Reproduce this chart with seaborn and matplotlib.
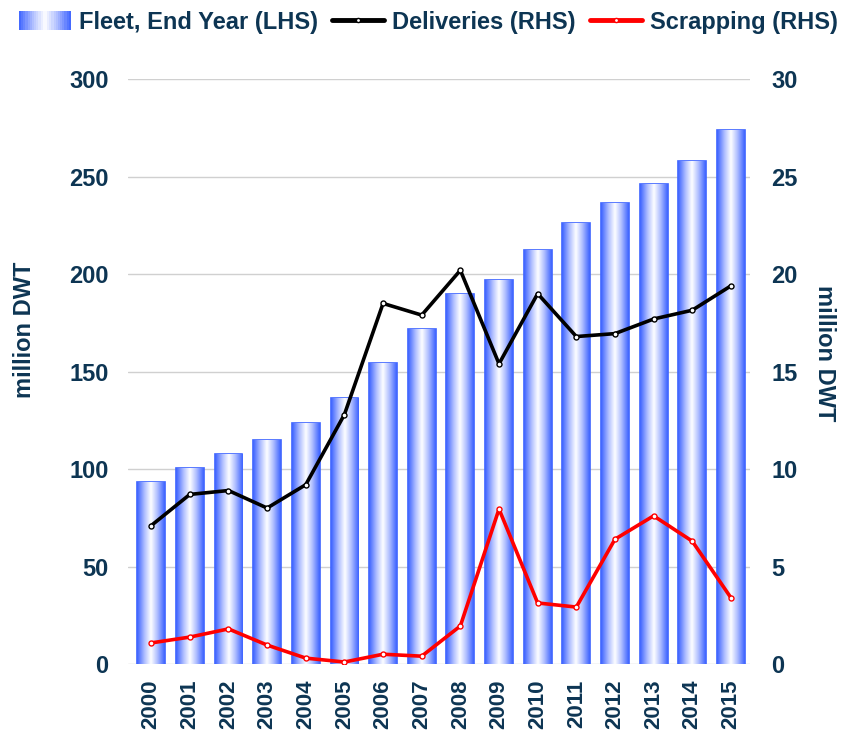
import numpy as np
import pandas as pd
import matplotlib
matplotlib.use('Agg')
import matplotlib.pyplot as plt
import seaborn as sns
from matplotlib.colors import LinearSegmentedColormap
from matplotlib.legend_handler import HandlerBase
from matplotlib.patches import Rectangle
from matplotlib.lines import Line2D

sns.set_style('white')
plt.rcParams['font.family'] = ['Liberation Sans', 'DejaVu Sans']
plt.rcParams['font.weight'] = 'bold'

years = [str(y) for y in range(2000, 2016)]
fleet = [93.3, 100.5, 107.7, 114.9, 123.6, 136.4, 154.4, 171.8,
         189.7, 196.9, 212.3, 226.2, 236.4, 246.2, 257.9, 273.8]
deliveries = [7.1, 8.7, 8.9, 8.0, 9.2, 12.8, 18.5, 17.9,
              20.2, 15.4, 19.0, 16.8, 16.95, 17.7, 18.15, 19.4]
scrapping = [1.08, 1.38, 1.8, 0.97, 0.3, 0.1, 0.5, 0.4,
             1.95, 7.95, 3.13, 2.92, 6.4, 7.6, 6.3, 3.4]

navy = '#0d3553'
blue = '#3d63ff'
grad = LinearSegmentedColormap.from_list('g', [blue, '#a9b9ff', '#ffffff', '#a9b9ff', blue])
fs = 17

df = pd.DataFrame({'year': years, 'fleet': fleet,
                   'deliveries': deliveries, 'scrapping': scrapping})

fig = plt.figure(figsize=(8.42, 7.34), dpi=100)
ax = fig.add_axes([0.152, 0.0954, 0.739, 0.7966])

sns.barplot(data=df, x='year', y='fleet', ax=ax, width=0.72,
            color='white', edgecolor=blue, linewidth=1.2, zorder=2)

# horizontal gradient inside each bar
g = np.linspace(0, 1, 64).reshape(1, -1)
for p in ax.patches:
    x0, w, h = p.get_x(), p.get_width(), p.get_height()
    im = ax.imshow(g, cmap=grad, aspect='auto', extent=[x0, x0 + w, 0, h],
                   zorder=2.5, interpolation='bicubic')
    im.set_clip_path(p)

ax.set_xlim(-0.6, 15.5)
ax.set_ylim(0, 300)
ax.set_yticks(range(0, 301, 50))
ax.yaxis.grid(True, color='#d0d0d0', linewidth=1)
ax.set_axisbelow(True)
for s in ax.spines.values():
    s.set_visible(False)
ax.tick_params(axis='y', length=0, labelsize=fs, labelcolor=navy, pad=14)
ax.tick_params(axis='x', length=0, labelsize=16, labelcolor=navy, pad=11)
plt.setp(ax.get_xticklabels(), rotation=90, fontweight='bold')
plt.setp(ax.get_yticklabels(), fontweight='bold')
ax.set_xlabel('')
ax.set_ylabel('million DWT', color=navy, fontsize=fs, fontweight='bold')
ax.yaxis.set_label_coords(-0.148, 0.571)

ax2 = ax.twinx()
x = np.arange(len(years))
sns.lineplot(x=x, y=deliveries, ax=ax2, color='black', linewidth=2.6,
             marker='o', markersize=3.6, markerfacecolor='white',
             markeredgecolor='black', markeredgewidth=1)
sns.lineplot(x=x, y=scrapping, ax=ax2, color='#ff0000', linewidth=2.6,
             marker='o', markersize=3.6, markerfacecolor='white',
             markeredgecolor='#ff0000', markeredgewidth=1)
ax2.set_ylim(0, 30)
ax2.set_yticks(range(0, 31, 5))
for s in ax2.spines.values():
    s.set_visible(False)
ax2.tick_params(axis='y', length=0, labelsize=fs, labelcolor=navy, pad=15)
plt.setp(ax2.get_yticklabels(), fontweight='bold')
ax2.set_ylabel('million DWT', color=navy, fontsize=fs, fontweight='bold',
               rotation=270, va='center', ha='center')
ax2.yaxis.set_label_coords(1.119, 0.532)
ax2.grid(False)


class GradHandler(HandlerBase):
    def create_artists(self, legend, orig, xd, yd, width, height, fontsize, trans):
        arts = []
        n = 24
        for i in range(n):
            c = grad((i + 0.5) / n)
            r = Rectangle((xd + width * i / n, yd - 1), width / n, height + 2,
                          facecolor=c, edgecolor='none', transform=trans)
            arts.append(r)
        return arts


handles = [Rectangle((0, 0), 1, 1),
           Line2D([], [], color='black', linewidth=3.5, marker='o', markersize=3,
                  markerfacecolor='white', markeredgecolor='black'),
           Line2D([], [], color='#ff0000', linewidth=3.5, marker='o', markersize=3,
                  markerfacecolor='white', markeredgecolor='#ff0000')]
labels = ['Fleet, End Year (LHS)', 'Deliveries (RHS)', 'Scrapping (RHS)']
leg = fig.legend(handles, labels, loc='center', bbox_to_anchor=(0.509, 0.97),
                 ncol=3, frameon=False, handlelength=2.2, handletextpad=0.35,
                 columnspacing=0.6, handler_map={Rectangle: GradHandler()},
                 prop={'size': fs, 'weight': 'bold'})
for t in leg.get_texts():
    t.set_color(navy)

fig.savefig('out.png', dpi=100, facecolor='white')
